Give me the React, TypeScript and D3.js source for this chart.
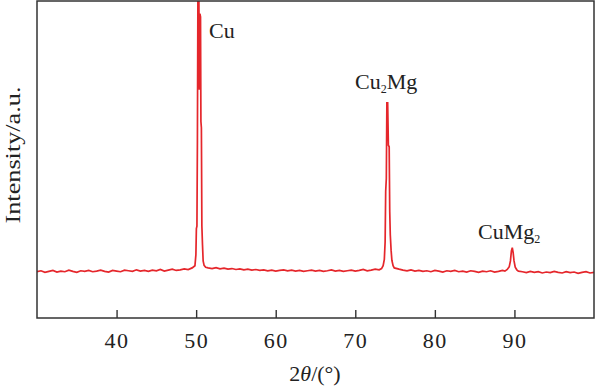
import * as d3 from "d3";
import React, { useEffect, useRef } from "react";

// XRD scan: [2theta (deg), intensity (a.u.)]
const scanLow: [number, number][] = [
  [30, 146], [30.5, 149], [31, 144], [31.5, 147], [32, 150], [32.5, 145], [33, 148], [33.5, 146],
  [34, 151], [34.5, 147], [35, 144], [35.5, 149], [36, 147], [36.5, 150], [37, 146], [37.5, 148],
  [38, 151], [38.5, 147], [39, 145], [39.5, 150], [40, 148], [40.5, 146], [41, 151], [41.5, 149],
  [42, 147], [42.5, 152], [43, 148], [43.5, 150], [44, 147], [44.5, 151], [45, 149], [45.5, 153],
  [46, 148], [46.5, 151], [47, 154], [47.5, 150], [48, 152], [48.5, 155], [49, 153], [49.5, 158],
];

const cuPeak: [number, number][] = [
  [49.85, 165], [49.97, 200], [50.03, 282], [50.1, 290], [50.16, 560], [50.24, 1150], [50.32, 1150],
  [50.4, 720], [50.47, 960], [50.55, 950], [50.6, 620], [50.66, 600], [50.72, 290], [50.8, 230],
  [50.88, 180], [51.0, 166], [51.2, 160],
];

const scanMid: [number, number][] = [
  [51.5, 158], [52, 156], [52.5, 159], [53, 155], [53.5, 157], [54, 154], [54.5, 156], [55, 153],
  [55.5, 155], [56, 152], [56.5, 154], [57, 151], [57.5, 153], [58, 150], [58.5, 152], [59, 149],
  [59.5, 151], [60, 148], [60.5, 150], [61, 152], [61.5, 149], [62, 151], [62.5, 148], [63, 150],
  [63.5, 147], [64, 149], [64.5, 151], [65, 148], [65.5, 150], [66, 147], [66.5, 149], [67, 152],
  [67.5, 148], [68, 150], [68.5, 147], [69, 149], [69.5, 151], [70, 148], [70.5, 150], [71, 153],
  [71.5, 149], [72, 151], [72.5, 154], [73, 152],
];

const cu2MgPeak: [number, number][] = [
  [73.3, 156], [73.5, 165], [73.65, 185], [73.75, 240], [73.82, 400], [73.9, 440], [73.97, 679],
  [74.07, 679], [74.16, 545], [74.26, 540], [74.33, 335], [74.4, 262], [74.5, 214], [74.6, 182],
  [74.75, 165], [74.9, 158],
];

const scanHigh: [number, number][] = [
  [75.5, 154], [76, 151], [76.5, 149], [77, 152], [77.5, 148], [78, 150], [78.5, 147], [79, 149],
  [79.5, 146], [80, 150], [80.5, 148], [81, 145], [81.5, 149], [82, 147], [82.5, 150], [83, 146],
  [83.5, 148], [84, 145], [84.5, 149], [85, 147], [85.5, 144], [86, 148], [86.5, 146], [87, 149],
  [87.5, 145], [88, 147], [88.5, 150],
];

const cuMg2Peak: [number, number][] = [
  [88.8, 148], [89.1, 153], [89.35, 162], [89.5, 180], [89.62, 212], [89.73, 222], [89.84, 206],
  [89.95, 180], [90.1, 160], [90.3, 152], [90.5, 148],
];

const scanEnd: [number, number][] = [
  [91, 146], [91.5, 143], [92, 147], [92.5, 144], [93, 146], [93.5, 142], [94, 145], [94.5, 143],
  [95, 147], [95.5, 144], [96, 142], [96.5, 146], [97, 143], [97.5, 145], [98, 141], [98.5, 144],
  [99, 146], [99.5, 142], [100, 144],
];

const xTicks = [40, 50, 60, 70, 80, 90];

const W = 596;
const H = 386;
const left = 37;
const right = 594;
const top = 1;
const bottom = 318;

const App: React.FC = () => {
  const axisRef = useRef<SVGGElement | null>(null);

  const x = d3.scaleLinear().domain([30, 100]).range([left, right]);
  const y = d3.scaleLinear().domain([0, 1000]).range([bottom, top]);

  const scan = [...scanLow, ...cuPeak, ...scanMid, ...cu2MgPeak, ...scanHigh, ...cuMg2Peak, ...scanEnd];
  const line = d3.line<[number, number]>()
    .x(d => x(d[0]))
    .y(d => y(d[1]));

  useEffect(() => {
    if (!axisRef.current) {
      return;
    }
    const g = d3.select(axisRef.current);
    g.selectAll("*").remove();
    g.call(d3.axisBottom(x).tickValues(xTicks).tickSizeInner(-8).tickSizeOuter(0).tickPadding(14));
    g.select(".domain").remove();
    g.selectAll(".tick line").attr("stroke", "#333").attr("stroke-width", 1.4);
    g.selectAll(".tick text")
      .attr("fill", "#222")
      .attr("font-size", 22)
      .attr("letter-spacing", 1.5)
      .attr("font-family", "'Liberation Serif', 'Times New Roman', serif");
  }, []);

  const font = "'Liberation Serif', 'Times New Roman', serif";

  return (
    <svg width={W} height={H} style={{ position: "absolute", left: 0, top: 0, background: "#fff" }}>
      <defs>
        <clipPath id="plot">
          <rect x={left} y={top} width={right - left} height={bottom - top} />
        </clipPath>
      </defs>
      <path d={line(scan) ?? ""} fill="none" stroke="#e5262b" strokeWidth={1.7} clipPath="url(#plot)" />
      <rect x={left} y={top} width={right - left} height={bottom - top} fill="none" stroke="#333" strokeWidth={1.5} />
      <g ref={axisRef} transform={`translate(0,${bottom})`} />

      <g fontFamily={font} fill="#222" fontSize={22}>
        <text x={209} y={38}>Cu</text>
        <text x={355} y={89}>
          Cu<tspan fontSize={12} dy={4}>2</tspan><tspan dy={-4}>Mg</tspan>
        </text>
        <text x={478} y={239}>
          CuMg<tspan fontSize={12} dy={4}>2</tspan>
        </text>
        <text x={315} y={381} textAnchor="middle">
          2<tspan fontStyle="italic">θ</tspan>/(°)
        </text>
        <text transform="translate(20,155) rotate(-90)" fontSize={21} textAnchor="middle" textLength={137} lengthAdjust="spacingAndGlyphs">
          Intensity/a.u.
        </text>
      </g>
    </svg>
  );
};

export default App;
